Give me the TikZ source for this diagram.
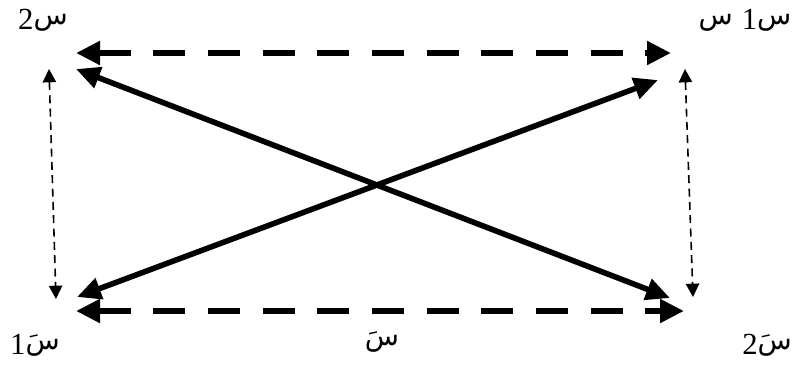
\documentclass[tikz,border=0pt]{standalone}
\usepackage{fontspec}
\TeXXeTstate=1
\newfontfamily\arabicfont[Script=Arabic]{DejaVu Sans}
\newfontfamily\digitfont{Liberation Serif}
\newcommand{\dg}[1]{{\digitfont\fontsize{23}{26}\selectfont\raisebox{-4pt}{#1}}}
\usetikzlibrary{arrows.meta}
\begin{document}
\begin{tikzpicture}[x=0.75pt,y=-0.75pt,
  thickdash/.style={line width=5pt, dash pattern=on 24pt off 17pt,
    {Triangle[length=18pt,width=17pt]}-{Triangle[length=18pt,width=17pt]}},
  diag/.style={line width=4.2pt,
    {Triangle[length=18pt,width=16pt]}-{Triangle[length=18pt,width=16pt]}},
  thindash/.style={line width=1.2pt, dash pattern=on 6pt off 4pt,
    {Triangle[length=10pt,width=10pt]}-{Triangle[length=10pt,width=10pt]}},
  lbl/.style={inner sep=0pt, font=\fontsize{21}{24}\selectfont}]
\useasboundingbox (0,0) rectangle (796,369);
% endpoints
\coordinate (tdl) at (76,53);
\coordinate (tdr) at (671,53);
\coordinate (bdl) at (76,311);
\coordinate (bdr) at (684,311);
\coordinate (lvt) at (49,69);
\coordinate (lvb) at (56,299);
\coordinate (rvt) at (685,69);
\coordinate (rvb) at (693,297);
\coordinate (d1a) at (76,69);
\coordinate (d1b) at (670,298);
\coordinate (d2a) at (77,297);
\coordinate (d2b) at (658,80);
% connectors
\draw[thickdash] (tdl) -- (tdr);
\draw[thickdash] (bdl) -- (bdr);
\draw[thindash] (lvt) -- (lvb);
\draw[thindash] (rvt) -- (rvb);
\draw[diag] (d1a) -- (d1b);
\draw[diag] (d2a) -- (d2b);
% labels
\node[lbl] (ltl) at (43,20) {\arabicfont\beginR س\dg{2}\endR};
\node[lbl] (ltr) at (745,20) {\arabicfont\beginR س\dg{1} س\endR};
\node[lbl] (lbl1) at (35,345) {\arabicfont\beginR سَ\dg{1}\endR};
\node[lbl] (lbm) at (382,342) {\arabicfont\beginR سَ\endR};
\node[lbl] (lbr) at (767,345) {\arabicfont\beginR سَ\dg{2}\endR};
\end{tikzpicture}
\end{document}
